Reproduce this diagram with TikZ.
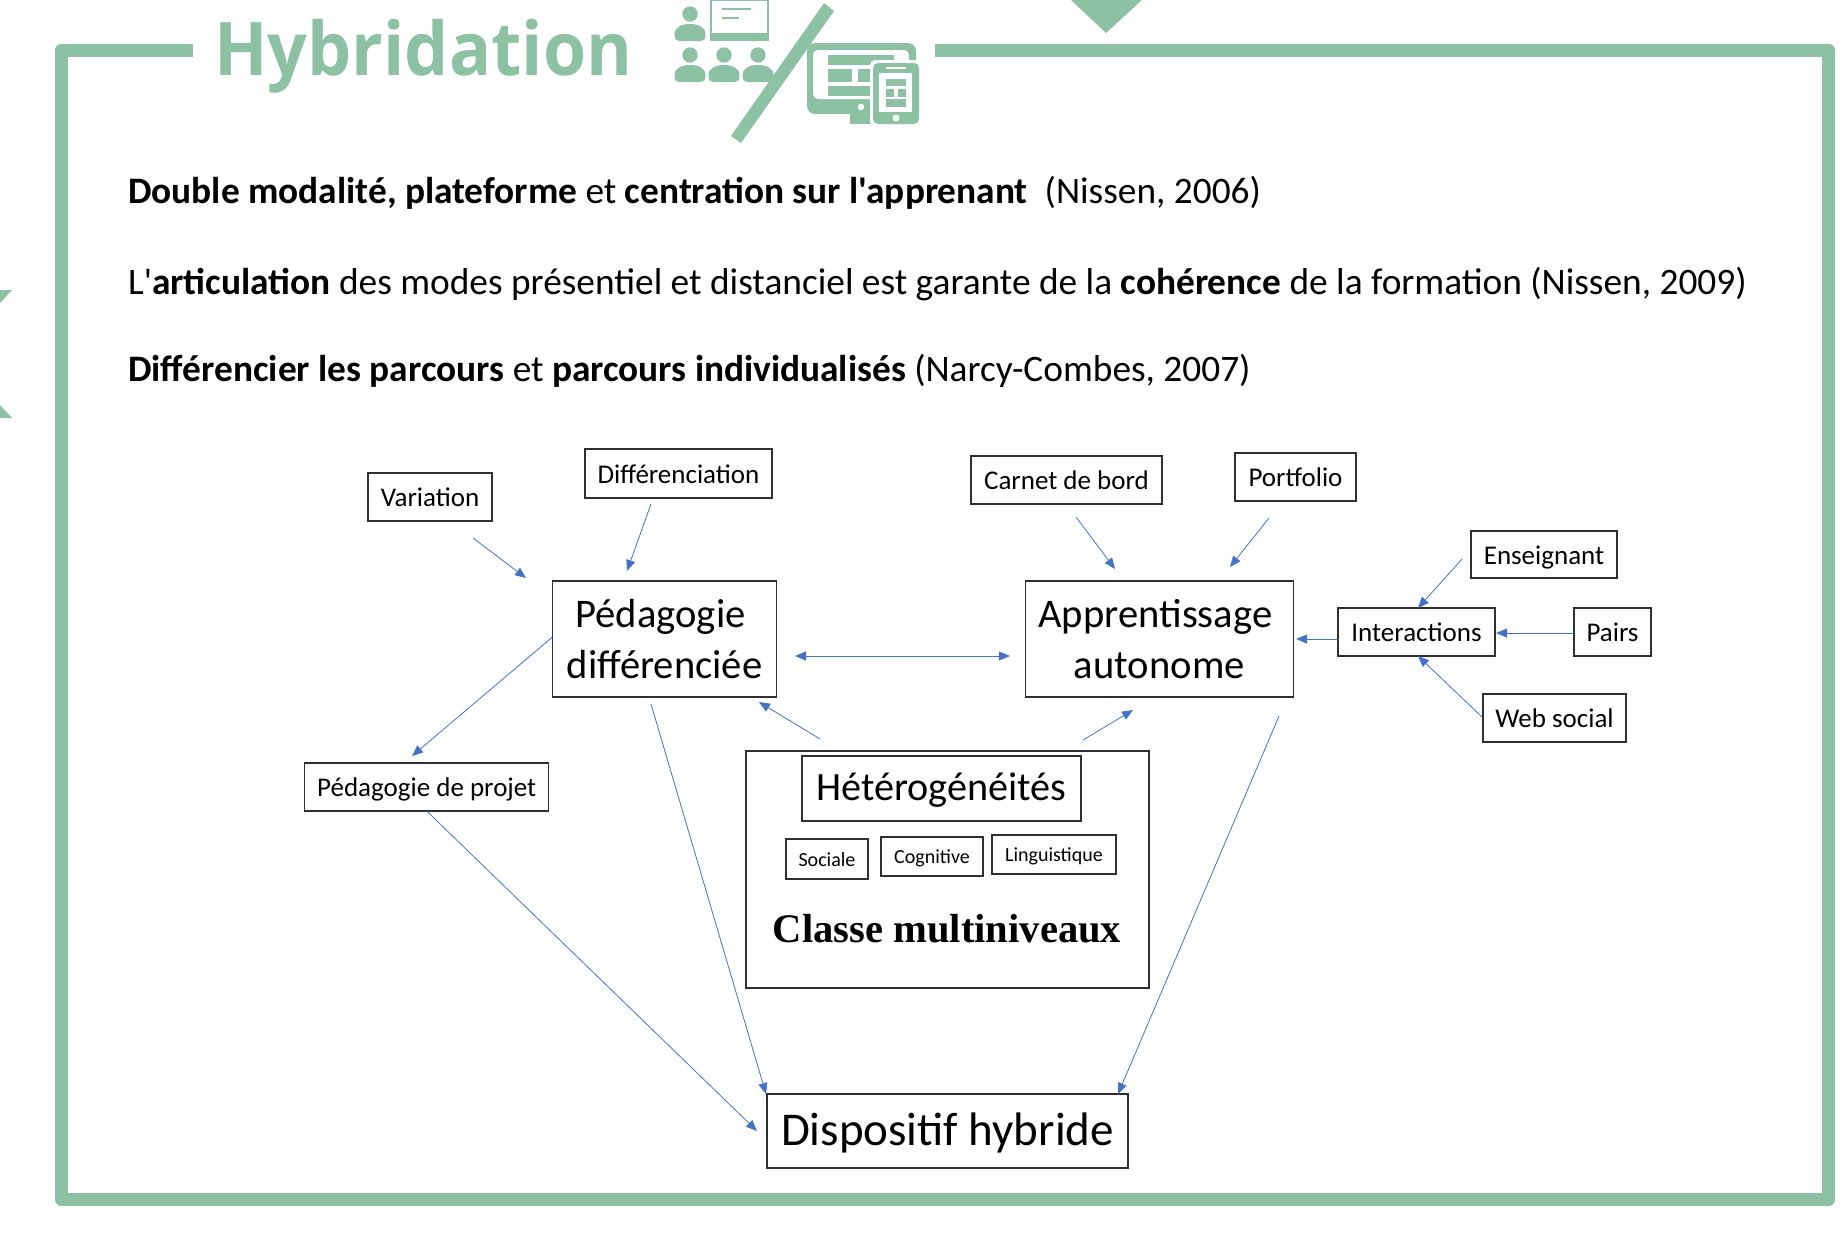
\documentclass[tikz,border=0pt]{standalone}
\usepackage{fontspec}
\setmainfont{Carlito}[Ligatures=TeXOff]
\newfontfamily\titlefont{Open Sans}[FakeStretch=0.945]
\newfontfamily\serifbold{Liberation Serif}
\usetikzlibrary{arrows.meta}
\definecolor{grn}{HTML}{8CC2A3}
\definecolor{blu}{HTML}{4472C4}
\definecolor{bord}{HTML}{2F2F2F}
\newcommand{\fsz}[1]{\fontsize{#1}{#1}\selectfont}
\newcommand{\personicon}[2]{%
  \begin{scope}[shift={(#1,#2)}]
    \fill[grn] (0,0) circle (7.7);
    \fill[grn] (-15.5,20) .. controls (-15.5,13) and (-8,10) .. (0,10) .. controls (8,10) and (15.5,13) .. (15.5,20)
      .. controls (15.5,25) and (14,27) .. (11,27) -- (-11,27) .. controls (-14,27) and (-15.5,25) .. (-15.5,20) -- cycle;
  \end{scope}}
\tikzset{
  box/.style={draw=bord,line width=1.3pt,fill=white,inner sep=0pt,outer sep=0pt,align=center},
  smalltxt/.style={font=\fsz{27},text height=24pt,text depth=5pt},
  tinytxt/.style={font=\fsz{20},text height=18pt,text depth=4pt},
  bigtxt/.style={font=\fsz{40.6}},
  lnk/.style={draw=blu,line width=0.8pt,-{Triangle[length=11pt,width=9pt,fill=blu]}},
  lnkb/.style={draw=blu,line width=0.8pt,{Triangle[length=11pt,width=9pt,fill=blu]}-{Triangle[length=11pt,width=9pt,fill=blu]}},
  frameline/.style={draw=grn,line width=13pt,line join=round},
  para/.style={anchor=base west,inner sep=0pt,font=\fsz{37.35}}
}
\begin{document}
\begin{tikzpicture}[x=1pt,y=-1pt]
\useasboundingbox (0,0) rectangle (1846,1253);
% frame
\draw[frameline] (193,50) -- (61.5,50) -- (61.5,1199.5) -- (1828.5,1199.5) -- (1828.5,50) -- (935,50);
\fill[grn] (1071,0) -- (1142,0) -- (1106,33) -- cycle;
\fill[grn] (0,290) -- (12,290) -- (0,303) -- cycle;
\fill[grn] (0,405) -- (12,418) -- (0,418) -- cycle;
% title
\node[anchor=base west,inner sep=0pt,text=grn,font=\titlefont\bfseries\fsz{74}] (title) at (214,75) {Hybridation};
% icon: people and board
\personicon{690}{14}
\personicon{690}{55}
\personicon{724}{55}
\personicon{758}{55}
\fill[grn] (710,0) rectangle (769,41);
\fill[white] (712,1) rectangle (767,33);
\fill[grn] (722,8.3) rectangle (751,10.3);
\fill[grn] (722,17) rectangle (739,19);
% icon: monitor and phone
\fill[grn,rounded corners=8pt] (807,43) rectangle (916,114);
\fill[white,rounded corners=5pt] (813,50) rectangle (909,99);
\fill[grn] (828,55) rectangle (894,65);
\fill[grn] (828,69) rectangle (852,82);
\fill[grn] (858,69) rectangle (870,82);
\fill[grn] (828,86) rectangle (870,96);
\fill[white] (861,107) circle (3.3);
\fill[grn] (850,112) rectangle (873,124);
\fill[white,rounded corners=5pt] (870,60) rectangle (922,127);
\fill[grn,rounded corners=5pt] (873,63) rectangle (919,124);
\fill[white] (879,73) rectangle (912,112);
\fill[white] (886,67.3) rectangle (906,69);
\fill[white] (896,118) circle (3.5);
\fill[grn] (886,79) rectangle (906,86);
\fill[grn] (886,89) rectangle (894,97);
\fill[grn] (898,89) rectangle (906,97);
\fill[grn] (886,99) rectangle (906,107);
% slash
\fill[grn] (824,3) -- (834,11) -- (741,143) -- (731,136) -- cycle;
% paragraphs
\node[para] (p1) at (128,203) {\textbf{Double modalité, plateforme} et \textbf{centration sur l'apprenant}\ \ (Nissen, 2006)};
\node[para] (p2) at (128,294) {L'\textbf{articulation} des modes présentiel et distanciel est garante de la \textbf{cohérence} de la formation (Nissen, 2009)};
\node[para] (p3) at (128,381) {\textbf{Différencier les parcours} et \textbf{parcours individualisés} (Narcy-Combes, 2007)};
% boxes
\node[box,smalltxt,minimum width=124pt,minimum height=48pt] (variation) at (430,497) {Variation};
\node[box,smalltxt,minimum width=187pt,minimum height=49pt] (diff) at (678.5,473.5) {Différenciation};
\node[box,bigtxt,minimum width=224pt,minimum height=116pt] (ped) at (664.5,639) {Pédagogie\hspace*{8pt}\\[11pt]différenciée};
\node[box,smalltxt,minimum width=244pt,minimum height=48pt] (projet) at (426.7,787) {Pédagogie de projet};
\node[box,smalltxt,minimum width=191pt,minimum height=48pt] (carnet) at (1066.5,480) {Carnet de bord};
\node[box,smalltxt,minimum width=121pt,minimum height=48pt] (portfolio) at (1295.5,477) {Portfolio};
\node[box,bigtxt,minimum width=268pt,minimum height=116pt] (app) at (1159.3,639) {Apprentissage\hspace*{8pt}\\[11pt]autonome};
\node[box,smalltxt,minimum width=157pt,minimum height=48pt] (inter) at (1416.5,632) {Interactions};
\node[box,smalltxt,minimum width=77pt,minimum height=48pt] (pairs) at (1612.5,632) {Pairs};
\node[box,smalltxt,minimum width=146pt,minimum height=47pt] (ens) at (1544,554.5) {Enseignant};
\node[box,smalltxt,minimum width=143pt,minimum height=48pt] (web) at (1554.5,718) {Web social};
\node[box,minimum width=403pt,minimum height=237pt] (classe) at (947.5,869.5) {};
\node[box,font=\fsz{40.2},text height=30pt,text depth=6pt,minimum width=279pt,minimum height=65pt] (hetero) at (941.5,788.5) {Hétérogénéités};
\node[box,tinytxt,minimum width=82pt,minimum height=40pt] (soc) at (827,859) {Sociale};
\node[box,tinytxt,minimum width=102pt,minimum height=39pt] (cog) at (932,856.5) {Cognitive};
\node[box,tinytxt,minimum width=124pt,minimum height=39pt] (lin) at (1054,854.5) {Linguistique};
\node[anchor=base,inner sep=0pt,font=\serifbold\bfseries\fsz{40.6}] (multi) at (947,942) {Classe multiniveaux};
\node[box,font=\fsz{47},text height=40pt,text depth=12pt,minimum width=361pt,minimum height=74pt] (disp) at (947.5,1131) {Dispositif hybride};
% free ends
\coordinate (a1) at (473,538); \coordinate (b1) at (526,578);
\coordinate (a2) at (651,504); \coordinate (b2) at (627,571);
\coordinate (b3) at (412,756);
\coordinate (a4) at (795,656); \coordinate (b4) at (1010,656);
\coordinate (a5) at (651,704); \coordinate (b5) at (766,1094);
\coordinate (a6) at (820,739); \coordinate (b6) at (759,702);
\coordinate (a7) at (1083,740); \coordinate (b7) at (1133,710);
\coordinate (a8) at (1279,716); \coordinate (b8) at (1118,1094);
\coordinate (b9) at (757,1131);
\coordinate (a10) at (1076,517); \coordinate (b10) at (1115,569);
\coordinate (a11) at (1269,518); \coordinate (b11) at (1230,567);
\coordinate (b12) at (1296,639); \coordinate (a12) at (1338,639);
\coordinate (b13) at (1496,633); \coordinate (a13) at (1574,633);
\coordinate (a14) at (1462,559); \coordinate (b14) at (1418,608);
\coordinate (a15) at (1482,717); \coordinate (b15) at (1418,656);
% connectors
\draw[lnk] (a1) -- (b1);
\draw[lnk] (a2) -- (b2);
\draw[lnk] ([yshift=2pt]ped.west) -- (b3);
\draw[lnkb] (a4) -- (b4);
\draw[lnk] (a5) -- (b5);
\draw[lnk] (a6) -- (b6);
\draw[lnk] (a7) -- (b7);
\draw[lnk] (a8) -- (b8);
\draw[lnk] (projet.south) -- (b9);
\draw[lnk] (a10) -- (b10);
\draw[lnk] (a11) -- (b11);
\draw[lnk] (a12) -- (b12);
\draw[lnk] (a13) -- (b13);
\draw[lnk] (a14) -- (b14);
\draw[lnk] (a15) -- (b15);
\end{tikzpicture}
\end{document}
